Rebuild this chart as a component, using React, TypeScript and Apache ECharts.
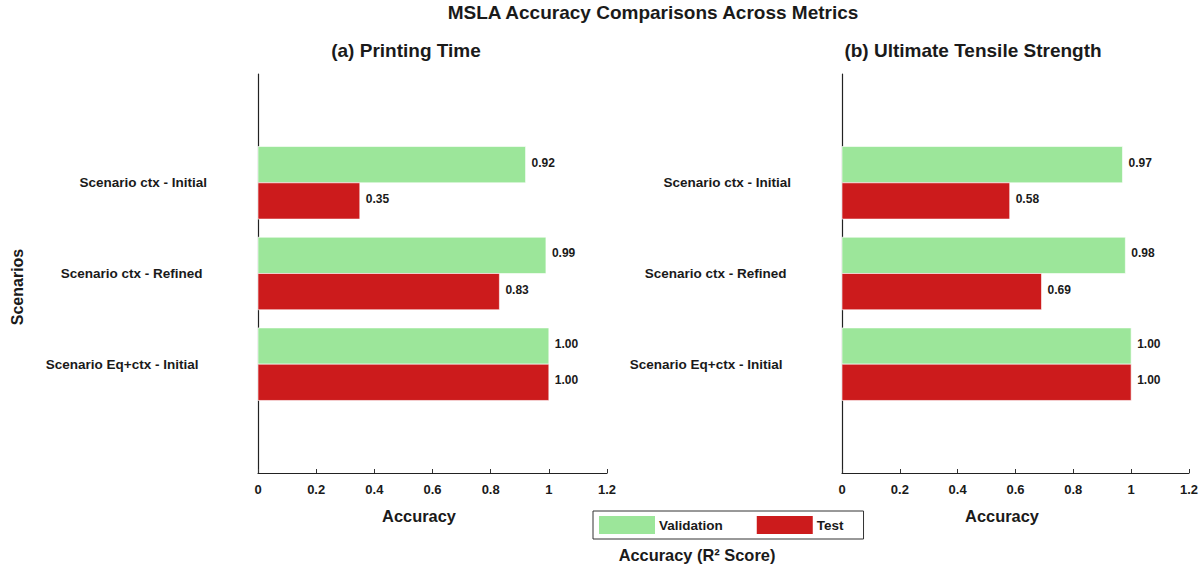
import React, { useEffect, useRef } from "react";
import * as echarts from "echarts";

// Scenario names (top to bottom) and R² scores per metric
const scenarios = ["Scenario ctx - Initial", "Scenario ctx - Refined", "Scenario Eq+ctx - Initial"];
const printingValidation = [0.92, 0.99, 1.0];
const printingTest = [0.35, 0.83, 1.0];
const tensileValidation = [0.97, 0.98, 1.0];
const tensileTest = [0.58, 0.69, 1.0];
const panelTitles = ["(a) Printing Time", "(b) Ultimate Tensile Strength"];

const FONT = "'Liberation Sans', Arial, Helvetica, sans-serif";
const GREEN = "#9ce69a";
const RED = "#cc1b1c";
const TEXT = "#1a1a1a";
const BAR = 0.4; // bar thickness in category units

function barRenderer(color: string, side: number) {
  return (_params: any, api: any) => {
    const v = api.value(0);
    const c = api.value(1);
    const a = side < 0 ? c - BAR : c;
    const b = side < 0 ? c : c + BAR;
    const p0 = api.coord([0, a]);
    const p1 = api.coord([v, b]);
    const x = p0[0];
    const y = Math.min(p0[1], p1[1]);
    const w = p1[0] - p0[0];
    const h = Math.abs(p1[1] - p0[1]);
    return {
      type: "group",
      children: [
        {
          type: "rect",
          shape: { x, y, width: w, height: h },
          style: { fill: color, stroke: "#ffffff", lineWidth: 0.6 },
        },
        {
          type: "text",
          x: x + w + 6,
          y: y + h / 2 - 2,
          style: {
            text: v.toFixed(2),
            fill: TEXT,
            font: `bold 12px ${FONT}`,
            align: "left",
            verticalAlign: "middle",
          },
        },
      ],
    };
  };
}

const labelRich = {
  r0: { fontFamily: FONT, fontWeight: "bold", fontSize: 13.5, color: TEXT, padding: [0, 0, 0, 0] },
  r1: { fontFamily: FONT, fontWeight: "bold", fontSize: 13.5, color: TEXT, padding: [0, 4.5, 0, 0] },
  r2: { fontFamily: FONT, fontWeight: "bold", fontSize: 13.5, color: TEXT, padding: [0, 8.5, 0, 0] },
};

function makeYAxis(gridIndex: number) {
  return {
    type: "value",
    gridIndex,
    min: -1.2,
    max: 3.2,
    interval: 0.2,
    inverse: true,
    axisLine: { show: true, onZero: false, lineStyle: { color: "#222", width: 1.2 } },
    axisTick: { show: false },
    splitLine: { show: false },
    axisLabel: {
      margin: 51,
      formatter: (val: number) => {
        const r = Math.round(val);
        if (Math.abs(val - r) > 1e-6 || r < 0 || r >= scenarios.length) return "";
        return `{r${r}|${scenarios[r]}}`;
      },
      rich: labelRich,
    },
  };
}

function makeXAxis(gridIndex: number) {
  return {
    type: "value",
    gridIndex,
    position: "bottom",
    min: 0,
    max: 1.2,
    interval: 0.2,
    axisLine: { show: true, onZero: false, lineStyle: { color: "#222", width: 1.2 } },
    axisTick: { show: true, inside: true, length: 4, lineStyle: { color: "#333" } },
    splitLine: { show: false },
    axisLabel: {
      margin: 10,
      color: TEXT,
      fontFamily: FONT,
      fontWeight: "bold",
      fontSize: 13,
    },
    name: "Accuracy",
    nameLocation: "middle",
    nameGap: 35,
    nameTextStyle: {
      color: TEXT,
      fontFamily: FONT,
      fontWeight: "bold",
      fontSize: 16.4,
      padding: [0, 27, 0, 0],
    },
  };
}

function toData(values: number[]) {
  return values.map((v, i) => [v, i]);
}

export default function App() {
  const ref = useRef<HTMLDivElement>(null);

  useEffect(() => {
    if (!ref.current) return;
    const chart = echarts.init(ref.current, undefined, { renderer: "svg" });
    const series: any[] = [];
    const panels = [
      [printingValidation, printingTest],
      [tensileValidation, tensileTest],
    ];
    panels.forEach(([val, test], gi) => {
      series.push({
        type: "custom",
        name: "Validation",
        xAxisIndex: gi,
        yAxisIndex: gi,
        itemStyle: { color: GREEN },
        encode: { x: 0, y: 1 },
        data: toData(val),
        renderItem: barRenderer(GREEN, -1),
      });
      series.push({
        type: "custom",
        name: "Test",
        xAxisIndex: gi,
        yAxisIndex: gi,
        itemStyle: { color: RED },
        encode: { x: 0, y: 1 },
        data: toData(test),
        renderItem: barRenderer(RED, 1),
      });
    });

    chart.setOption({
      animation: false,
      backgroundColor: "#ffffff",
      grid: [
        { left: 258, top: 74, width: 349, height: 399 },
        { left: 842, top: 74, width: 347, height: 399 },
      ],
      xAxis: [makeXAxis(0), makeXAxis(1)],
      yAxis: [makeYAxis(0), makeYAxis(1)],
      legend: {
        data: ["Validation", "Test"],
        left: 593,
        top: 511,
        orient: "horizontal",
        icon: "rect",
        itemWidth: 56,
        itemHeight: 18,
        itemGap: 34,
        padding: [5, 20, 5, 6],
        borderColor: "#333",
        borderWidth: 1,
        selectedMode: false,
        textStyle: {
          color: TEXT,
          fontFamily: FONT,
          fontWeight: "bold",
          fontSize: 13.5,
          padding: [0, 0, 6, -1],
        },
      },
      graphic: [
        {
          type: "text",
          x: 653,
          y: 12,
          style: {
            text: "MSLA Accuracy Comparisons Across Metrics",
            fill: TEXT,
            font: `bold 19px ${FONT}`,
            align: "center",
            verticalAlign: "middle",
          },
        },
        {
          type: "text",
          x: 406,
          y: 50,
          style: {
            text: panelTitles[0],
            fill: TEXT,
            font: `bold 19px ${FONT}`,
            align: "center",
            verticalAlign: "middle",
          },
        },
        {
          type: "text",
          x: 973,
          y: 50,
          style: {
            text: panelTitles[1],
            fill: TEXT,
            font: `bold 19px ${FONT}`,
            align: "center",
            verticalAlign: "middle",
          },
        },
        {
          type: "text",
          x: 17,
          y: 287,
          rotation: Math.PI / 2,
          style: {
            text: "Scenarios",
            fill: TEXT,
            font: `bold 16px ${FONT}`,
            align: "center",
            verticalAlign: "middle",
          },
        },
        {
          type: "text",
          x: 697,
          y: 555,
          style: {
            text: "Accuracy (R² Score)",
            fill: TEXT,
            font: `bold 16.4px ${FONT}`,
            align: "center",
            verticalAlign: "middle",
          },
        },
      ],
      series,
    });
    return () => chart.dispose();
  }, []);

  return (
    <div
      ref={ref}
      style={{ position: "absolute", left: 0, top: 0, width: 1201, height: 571 }}
    />
  );
}
